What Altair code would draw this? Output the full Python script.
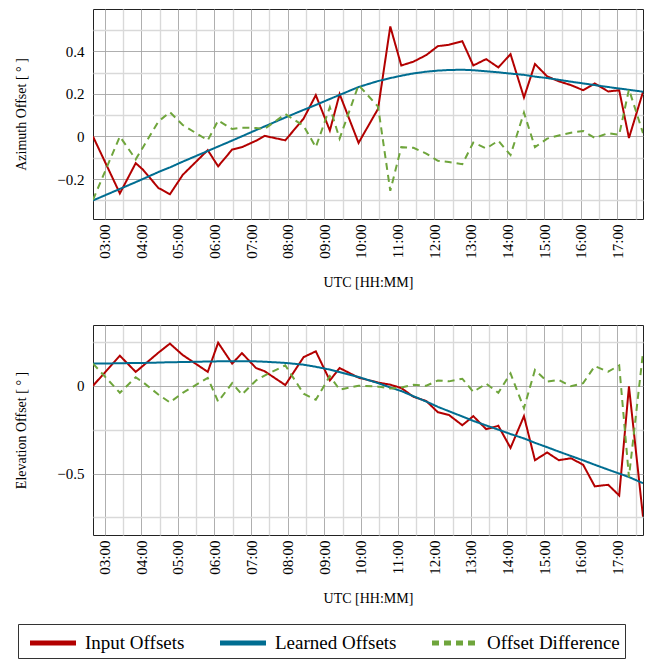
import altair as alt
import pandas as pd

# ---- data ----
times = ["02:41", "03:25", "03:51", "04:03", "04:28", "04:47", "05:08", "05:49", "06:06", "06:29",
         "06:45", "07:08", "07:22", "07:56", "08:26", "08:46", "09:09", "09:25", "09:56", "10:28",
         "10:48", "11:06", "11:26", "11:47", "12:06", "12:24", "12:46", "13:04", "13:25", "13:45",
         "14:05", "14:27", "14:45", "15:05", "15:24", "15:44", "16:04", "16:23", "16:45", "17:03",
         "17:19", "17:42"]

az_input = [0.0, -0.267, -0.125, -0.156, -0.241, -0.271, -0.18, -0.064, -0.14, -0.061,
            -0.05, -0.02, 0.003, -0.018, 0.084, 0.194, 0.028, 0.199, -0.03, 0.13,
            0.516, 0.333, 0.351, 0.382, 0.424, 0.43, 0.447, 0.333, 0.363, 0.324,
            0.386, 0.183, 0.34, 0.282, 0.259, 0.241, 0.217, 0.249, 0.211, 0.217,
            -0.007, 0.209]
az_learned = [-0.30, -0.246, -0.214, -0.199, -0.167, -0.145, -0.118, -0.068, -0.047, -0.019,
              0.001, 0.030, 0.047, 0.089, 0.125, 0.148, 0.176, 0.195, 0.232, 0.260,
              0.274, 0.285, 0.296, 0.304, 0.309, 0.312, 0.313, 0.311, 0.306, 0.301,
              0.295, 0.289, 0.281, 0.274, 0.266, 0.257, 0.249, 0.241, 0.232, 0.225,
              0.219, 0.21]
az_diff = [-0.297, 0.0, -0.107, -0.05, 0.07, 0.114, 0.054, -0.018, 0.075, 0.035,
           0.041, 0.04, 0.035, 0.105, 0.05, -0.05, 0.137, -0.01, 0.241, 0.14,
           -0.255, -0.05, -0.053, -0.08, -0.114, -0.12, -0.13, -0.028, -0.056, -0.02,
           -0.087, 0.112, -0.05, -0.01, 0.005, 0.018, 0.026, -0.007, 0.016, 0.008,
           0.221, 0.016]

el_input = [0.0, 0.171, 0.079, 0.114, 0.188, 0.24, 0.175, 0.079, 0.245, 0.126,
            0.186, 0.101, 0.083, 0.004, 0.163, 0.196, 0.03, 0.101, 0.046, 0.018,
            0.006, -0.013, -0.063, -0.087, -0.151, -0.166, -0.225, -0.173, -0.247, -0.228,
            -0.354, -0.173, -0.424, -0.38, -0.424, -0.413, -0.45, -0.573, -0.564, -0.625,
            -0.004, -0.746]
el_learned = [0.126, 0.128, 0.13, 0.13, 0.132, 0.134, 0.135, 0.138, 0.139, 0.14,
              0.14, 0.139, 0.137, 0.13, 0.12, 0.108, 0.092, 0.078, 0.05, 0.015,
              -0.01, -0.03, -0.06, -0.09, -0.12, -0.145, -0.175, -0.2, -0.226, -0.25,
              -0.275, -0.30, -0.325, -0.35, -0.375, -0.40, -0.425, -0.45, -0.478, -0.50,
              -0.52, -0.555]
el_diff = [0.126, -0.04, 0.048, 0.02, -0.05, -0.095, -0.04, 0.045, -0.09, 0.015,
           -0.05, 0.03, 0.058, 0.116, -0.045, -0.08, 0.055, -0.022, 0.0, -0.005,
           -0.015, -0.01, 0.005, 0.0, 0.03, 0.025, 0.04, -0.035, 0.012, -0.04,
           0.07, -0.128, 0.09, 0.024, 0.033, -0.003, 0.015, 0.112, 0.08, 0.116,
           -0.52, 0.19]

series_names = ["Input Offsets", "Learned Offsets", "Offset Difference"]
series_colors = ["#b30000", "#006d91", "#6fa53c"]

x_tick_values = [3.0, 3.5, 4.0, 4.5, 5.0, 5.5, 6.0, 6.5, 7.0, 7.5, 8.0, 8.5, 9.0, 9.5, 10.0,
                 10.5, 11.0, 11.5, 12.0, 12.5, 13.0, 13.5, 14.0, 14.5, 15.0, 15.5, 16.0,
                 16.5, 17.0, 17.5]
az_tick_values = [-0.3, -0.2, -0.1, 0.0, 0.1, 0.2, 0.3, 0.4, 0.5]
el_tick_values = [-0.75, -0.5, -0.25, 0.0, 0.25]

FONT = "Liberation Serif"


def to_hours(t):
    h, m = t.split(":")
    return int(h) + int(m) / 60.0


def make_frame(a, b, c):
    rows = []
    for name, vals in zip(series_names, [a, b, c]):
        for t, v in zip(times, vals):
            rows.append({"t": to_hours(t), "v": v, "s": name})
    return pd.DataFrame(rows)


legend = alt.Legend(
    orient="none", legendX=-75, legendY=615, direction="horizontal", title=None,
    symbolType="M-2,0H2", symbolSize=529, symbolStrokeWidth=5, symbolOffset=16,
    labelFont=FONT, labelFontSize=19, labelColor="black", labelOffset=18,
    columnPadding=25, padding=5, strokeColor="#333", fillColor="white",
    labelLimit=400, columns=3,
)

x_domain = [to_hours(times[0]), to_hours(times[-1])]


def panel(a, b, c, y_domain, y_values, y_title, y_label_expr, y_major_test):
    df = make_frame(a, b, c)
    x_axis = alt.Axis(
        values=x_tick_values,
        labelExpr="datum.value % 1 == 0 ? ((datum.value < 10 ? '0' : '') + datum.value + ':00') : ''",
        labelAngle=270, labelFont=FONT, labelFontSize=15, labelColor="black",
        labelPadding=5, labelOverlap=False, ticks=False, domain=False,
        grid=True,
        gridColor={"condition": {"test": "datum.value % 1 == 0", "value": "#a6a6a6"}, "value": "#d9d9d9"},
        gridWidth={"condition": {"test": "datum.value % 1 == 0", "value": 0.9}, "value": 1.4},
        title="UTC [HH:MM]", titleFont=FONT, titleFontSize=14, titleFontWeight="normal",
        titleColor="black", titlePadding=16, minExtent=40, maxExtent=40,
    )
    y_axis = alt.Axis(
        values=y_values, labelExpr=y_label_expr,
        labelFont=FONT, labelFontSize=15, labelColor="black", labelPadding=9,
        ticks=False, domain=False, grid=True,
        gridColor={"condition": {"test": y_major_test, "value": "#a6a6a6"}, "value": "#d9d9d9"},
        gridWidth={"condition": {"test": y_major_test, "value": 0.9}, "value": 1.4},
        title=y_title, titleFont=FONT, titleFontSize=14, titleFontWeight="normal",
        titleColor="black", titlePadding=25, minExtent=40, maxExtent=40,
    )
    return alt.Chart(df).mark_line(strokeWidth=2, clip=True).encode(
        x=alt.X("t:Q", scale=alt.Scale(domain=x_domain, nice=False, zero=False), axis=x_axis),
        y=alt.Y("v:Q", scale=alt.Scale(domain=y_domain, nice=False, zero=False), axis=y_axis),
        color=alt.Color("s:N", scale=alt.Scale(domain=series_names, range=series_colors), legend=legend),
        strokeDash=alt.StrokeDash("s:N", scale=alt.Scale(domain=series_names,
                                                         range=[[1, 0], [1, 0], [7, 5]]), legend=legend),
    ).properties(width=550, height=210)


top = panel(az_input, az_learned, az_diff, [-0.387, 0.598], az_tick_values,
            "Azimuth Offset [ ° ]",
            "round(datum.value*10) % 2 == 0 ? (datum.value == 0 ? '0' : format(datum.value, '.1f')) : ''",
            "round(datum.value*10) % 2 == 0")
bottom = panel(el_input, el_learned, el_diff, [-0.85, 0.346], el_tick_values,
               "Elevation Offset [ ° ]",
               "round(datum.value*4) % 2 == 0 ? (datum.value == 0 ? '0' : format(datum.value, '.1f')) : ''",
               "round(datum.value*4) % 2 == 0")

chart = alt.vconcat(top, bottom, spacing=34).properties(
    padding={"left": 5, "top": 0, "right": 0, "bottom": 0}
).configure_view(stroke="#222", strokeWidth=1)

chart.save("out.html", embed_options={"renderer": "svg", "actions": False})
